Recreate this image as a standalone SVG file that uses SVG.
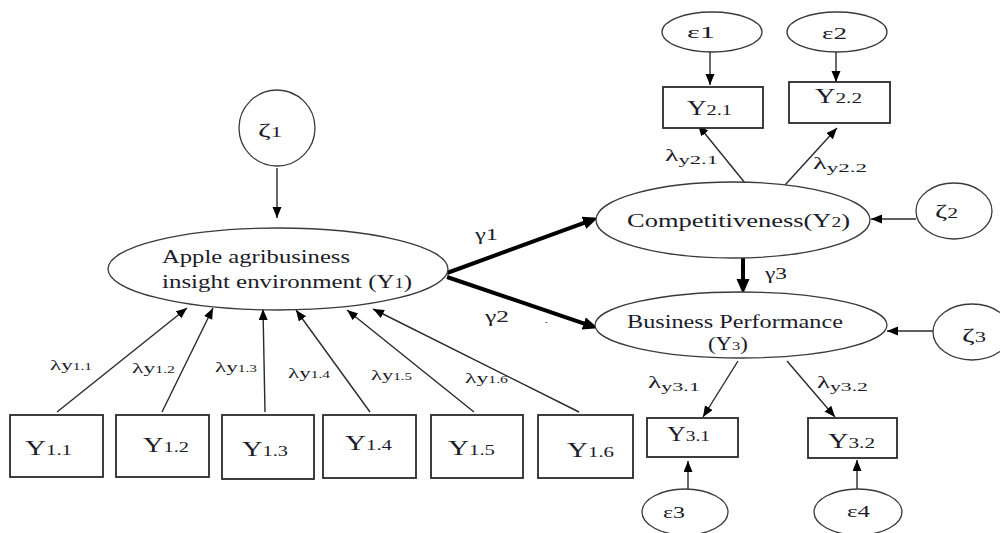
<svg xmlns="http://www.w3.org/2000/svg" width="1000" height="533" viewBox="0 0 1000 533">
<defs>
<style>
.bg{fill:#ffffff}
.nd{fill:#ffffff;stroke:#3a3a3a;stroke-width:1.3}
.bx{fill:#ffffff;stroke:#2a2a2a;stroke-width:1.8}
.t{font-family:"Liberation Serif","Times New Roman",serif;fill:#1c1c2a}
.ln{stroke:#2a2a2a;stroke-width:1.4;fill:none;marker-end:url(#ah)}
.lt{stroke:#000000;stroke-width:4;fill:none;marker-end:url(#ahb)}
</style>
<marker id="ah" markerUnits="userSpaceOnUse" markerWidth="12" markerHeight="10" refX="11" refY="4.5" orient="auto">
<path d="M0,0 L11,4.5 L0,9 z" fill="#000"/>
</marker>
<marker id="ahb" markerUnits="userSpaceOnUse" markerWidth="16" markerHeight="14" refX="6" refY="6.5" orient="auto">
<path d="M0,0 L15,6.5 L0,13 z" fill="#000"/>
</marker>
</defs>
<rect class="bg" x="0" y="0" width="1000" height="533"/>

<g id="connectors">
<line class="ln" x1="277" y1="168" x2="277" y2="218"/>
<line class="ln" x1="57" y1="412" x2="187" y2="308"/>
<line class="ln" x1="162" y1="412" x2="213" y2="308"/>
<line class="ln" x1="265" y1="412" x2="263" y2="309"/>
<line class="ln" x1="370" y1="412" x2="296" y2="310"/>
<line class="ln" x1="474" y1="412" x2="347" y2="310"/>
<line class="ln" x1="579" y1="412" x2="373" y2="309"/>
<line class="lt" x1="447" y1="273" x2="589.5" y2="220.8"/>
<line class="lt" x1="447" y1="277" x2="589.4" y2="325.4"/>
<line class="lt" x1="743" y1="258" x2="743" y2="285"/>
<line class="ln" x1="710" y1="52" x2="710" y2="85"/>
<line class="ln" x1="836" y1="52" x2="836" y2="82"/>
<line class="ln" x1="745" y1="183" x2="698" y2="125"/>
<line class="ln" x1="785" y1="185" x2="837" y2="128"/>
<line class="ln" x1="916" y1="219" x2="871" y2="219"/>
<line class="ln" x1="933" y1="331" x2="887" y2="331"/>
<line class="ln" x1="738" y1="361" x2="703" y2="417"/>
<line class="ln" x1="787" y1="361" x2="835" y2="417"/>
<line class="ln" x1="688" y1="490" x2="688" y2="461"/>
<line class="ln" x1="857" y1="490" x2="857" y2="460"/>
</g>

<g id="connector-labels">
<text class="t" x="50" y="370" textLength="42" lengthAdjust="spacingAndGlyphs"><tspan font-size="15">λy</tspan><tspan font-size="10">1.1</tspan></text>
<text class="t" x="132" y="373" textLength="43" lengthAdjust="spacingAndGlyphs"><tspan font-size="15">λy</tspan><tspan font-size="10">1.2</tspan></text>
<text class="t" x="215" y="372" textLength="42" lengthAdjust="spacingAndGlyphs"><tspan font-size="15">λy</tspan><tspan font-size="10">1.3</tspan></text>
<text class="t" x="288" y="378" textLength="42" lengthAdjust="spacingAndGlyphs"><tspan font-size="15">λy</tspan><tspan font-size="10">1.4</tspan></text>
<text class="t" x="371" y="380" textLength="41" lengthAdjust="spacingAndGlyphs"><tspan font-size="15">λy</tspan><tspan font-size="10">1.5</tspan></text>
<text class="t" x="465" y="383" textLength="43" lengthAdjust="spacingAndGlyphs"><tspan font-size="15">λy</tspan><tspan font-size="10">1.6</tspan></text>
<text class="t" x="475" y="240" font-size="16" textLength="23" lengthAdjust="spacingAndGlyphs">γ1</text>
<text class="t" x="485" y="322" font-size="16" textLength="24" lengthAdjust="spacingAndGlyphs">γ2</text>
<text class="t" x="545" y="325" font-size="8" fill="#999">-</text>
<text class="t" x="765" y="279" font-size="16" textLength="22" lengthAdjust="spacingAndGlyphs">γ3</text>
<text class="t" x="665" y="161" textLength="53" lengthAdjust="spacingAndGlyphs"><tspan font-size="16">λ</tspan><tspan font-size="13" dy="3">y2.1</tspan></text>
<text class="t" x="813" y="169" textLength="54" lengthAdjust="spacingAndGlyphs"><tspan font-size="16">λ</tspan><tspan font-size="13" dy="3">y2.2</tspan></text>
<text class="t" x="648" y="388" textLength="52" lengthAdjust="spacingAndGlyphs"><tspan font-size="16">λ</tspan><tspan font-size="13" dy="3">y3.1</tspan></text>
<text class="t" x="817" y="388" textLength="51" lengthAdjust="spacingAndGlyphs"><tspan font-size="16">λ</tspan><tspan font-size="13" dy="3">y3.2</tspan></text>
</g>

<g id="zeta1">
<circle class="nd" cx="277" cy="128" r="38"/>
<text class="t" x="258" y="137" textLength="24" lengthAdjust="spacingAndGlyphs"><tspan font-size="19">ζ</tspan><tspan font-size="14">1</tspan></text>
</g>

<g id="Y1">
<ellipse class="nd" cx="278" cy="269" rx="170" ry="41"/>
<text class="t" x="162" y="263" font-size="19" textLength="188" lengthAdjust="spacingAndGlyphs">Apple agribusiness</text>
<text class="t" x="162" y="288" textLength="250" lengthAdjust="spacingAndGlyphs"><tspan font-size="19">insight environment (Y</tspan><tspan font-size="14">1</tspan><tspan font-size="19">)</tspan></text>
</g>

<g id="Y2">
<ellipse class="nd" cx="733" cy="220" rx="137" ry="38"/>
<text class="t" x="627" y="227" textLength="223" lengthAdjust="spacingAndGlyphs"><tspan font-size="19">Competitiveness(Y</tspan><tspan font-size="14">2</tspan><tspan font-size="19">)</tspan></text>
</g>

<g id="Y3">
<ellipse class="nd" cx="741" cy="325" rx="146" ry="33"/>
<text class="t" x="627" y="328" font-size="18" textLength="216" lengthAdjust="spacingAndGlyphs">Business Performance</text>
<text class="t" x="708" y="350" textLength="40" lengthAdjust="spacingAndGlyphs"><tspan font-size="18">(Y</tspan><tspan font-size="13">3</tspan><tspan font-size="18">)</tspan></text>
</g>

<g id="zeta2">
<ellipse class="nd" cx="954" cy="211" rx="38" ry="28"/>
<text class="t" x="935" y="218" textLength="23" lengthAdjust="spacingAndGlyphs"><tspan font-size="19">ζ</tspan><tspan font-size="14">2</tspan></text>
</g>

<g id="zeta3">
<ellipse class="nd" cx="972" cy="332" rx="39" ry="28"/>
<text class="t" x="962" y="342" textLength="24" lengthAdjust="spacingAndGlyphs"><tspan font-size="19">ζ</tspan><tspan font-size="14">3</tspan></text>
</g>

<g id="eps1">
<ellipse class="nd" cx="712" cy="32" rx="50" ry="20"/>
<text class="t" x="687" y="38" font-size="17" textLength="28" lengthAdjust="spacingAndGlyphs">ε1</text>
</g>
<g id="eps2">
<ellipse class="nd" cx="837" cy="32" rx="50" ry="20"/>
<text class="t" x="822" y="39" font-size="17" textLength="25" lengthAdjust="spacingAndGlyphs">ε2</text>
</g>
<g id="eps3">
<ellipse class="nd" cx="685" cy="512" rx="43" ry="23"/>
<text class="t" x="663" y="518" font-size="17" textLength="22" lengthAdjust="spacingAndGlyphs">ε3</text>
</g>
<g id="eps4">
<ellipse class="nd" cx="858" cy="512" rx="44" ry="23"/>
<text class="t" x="847" y="517" font-size="17" textLength="23" lengthAdjust="spacingAndGlyphs">ε4</text>
</g>

<g id="Y2_1">
<rect class="bx" x="663" y="87" width="100" height="41"/>
<text class="t" x="687" y="115" textLength="45" lengthAdjust="spacingAndGlyphs"><tspan font-size="20">Y</tspan><tspan font-size="15">2.1</tspan></text>
</g>
<g id="Y2_2">
<rect class="bx" x="789" y="82" width="101" height="41"/>
<text class="t" x="815" y="103" textLength="47" lengthAdjust="spacingAndGlyphs"><tspan font-size="20">Y</tspan><tspan font-size="15">2.2</tspan></text>
</g>
<g id="Y3_1">
<rect class="bx" x="647" y="418" width="91" height="39"/>
<text class="t" x="667" y="441" textLength="43" lengthAdjust="spacingAndGlyphs"><tspan font-size="20">Y</tspan><tspan font-size="15">3.1</tspan></text>
</g>
<g id="Y3_2">
<rect class="bx" x="808" y="418" width="89" height="40"/>
<text class="t" x="828" y="448" textLength="47" lengthAdjust="spacingAndGlyphs"><tspan font-size="20">Y</tspan><tspan font-size="15">3.2</tspan></text>
</g>

<g id="Y1_1">
<rect class="bx" x="10" y="415" width="93" height="62"/>
<text class="t" x="25" y="455" textLength="47" lengthAdjust="spacingAndGlyphs"><tspan font-size="21">Y</tspan><tspan font-size="15">1.1</tspan></text>
</g>
<g id="Y1_2">
<rect class="bx" x="116" y="415" width="93" height="62"/>
<text class="t" x="143" y="452" textLength="46" lengthAdjust="spacingAndGlyphs"><tspan font-size="21">Y</tspan><tspan font-size="15">1.2</tspan></text>
</g>
<g id="Y1_3">
<rect class="bx" x="222" y="415" width="92" height="64"/>
<text class="t" x="242" y="456" textLength="46" lengthAdjust="spacingAndGlyphs"><tspan font-size="21">Y</tspan><tspan font-size="15">1.3</tspan></text>
</g>
<g id="Y1_4">
<rect class="bx" x="323" y="415" width="93" height="63"/>
<text class="t" x="345" y="450" textLength="47" lengthAdjust="spacingAndGlyphs"><tspan font-size="21">Y</tspan><tspan font-size="15">1.4</tspan></text>
</g>
<g id="Y1_5">
<rect class="bx" x="431" y="415" width="92" height="63"/>
<text class="t" x="448" y="455" textLength="47" lengthAdjust="spacingAndGlyphs"><tspan font-size="21">Y</tspan><tspan font-size="15">1.5</tspan></text>
</g>
<g id="Y1_6">
<rect class="bx" x="538" y="415" width="95" height="63"/>
<text class="t" x="567" y="457" textLength="47" lengthAdjust="spacingAndGlyphs"><tspan font-size="21">Y</tspan><tspan font-size="15">1.6</tspan></text>
</g>
</svg>
